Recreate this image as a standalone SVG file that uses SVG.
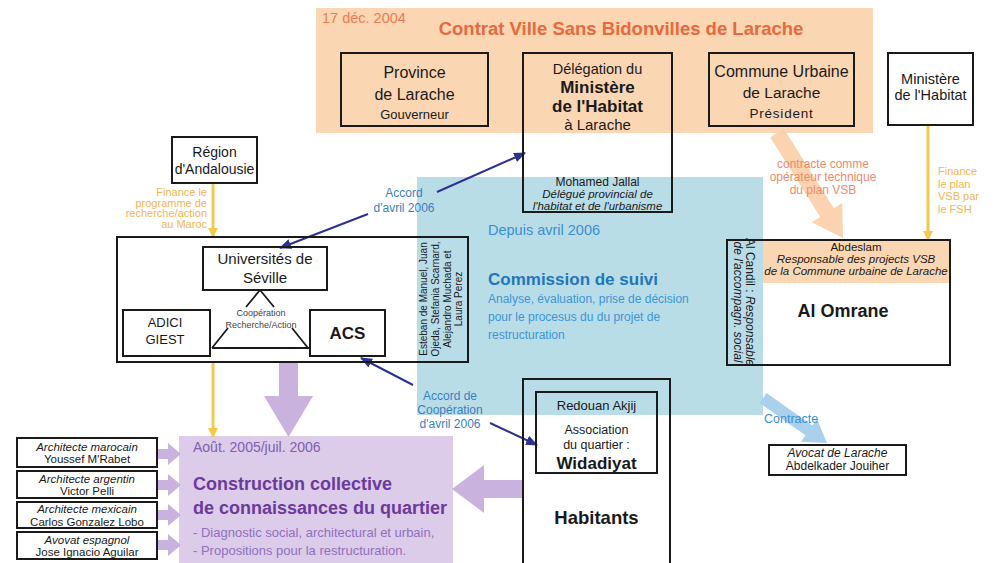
<svg xmlns="http://www.w3.org/2000/svg" width="995" height="563" viewBox="0 0 995 563">
<defs>
<style>
text{font-family:"Liberation Sans",Arial,sans-serif;fill:#1a1a1a}
.box{fill:none;stroke:#1a1a1a;stroke-width:2}
.c{text-anchor:middle}
.b{font-weight:bold}
.i{font-style:italic}
.navy{stroke:#2e3192;stroke-width:2;fill:none;marker-end:url(#mNavy)}
.yel{stroke:#f7c948;stroke-width:3;fill:none;marker-end:url(#mYel)}
.purp{fill:#c9b3de}
.acc{fill:#3a7fc2;font-size:12px;text-anchor:middle}
.fin{fill:#f4b650;font-size:11px}
.arch{font-size:11.5px;text-anchor:middle}
</style>
<marker id="mNavy" viewBox="0 0 12 10" refX="11" refY="5" markerWidth="12" markerHeight="10" markerUnits="userSpaceOnUse" orient="auto"><path d="M0,0 L12,5 L0,10 z" fill="#2e3192"/></marker>
<marker id="mYel" viewBox="0 0 10 10" refX="9" refY="5" markerWidth="10" markerHeight="10" markerUnits="userSpaceOnUse" orient="auto"><path d="M0,0 L10,5 L0,10 z" fill="#f7c948"/></marker>
</defs>
<rect width="995" height="563" fill="#ffffff"/>

<!-- background areas -->
<g id="contrat-vsb">
<rect x="316" y="8" width="557" height="125" fill="#fbd6b3"/>
<text x="322" y="23" font-size="14.5" style="fill:#e87d55">17 déc. 2004</text>
<text x="621" y="35" class="c b" font-size="18.5" style="fill:#e8693c">Contrat Ville Sans Bidonvilles de Larache</text>
</g>
<g id="commission-suivi">
<rect x="417" y="177" width="346" height="238" fill="#b9dde7"/>
<text x="488" y="235" font-size="14.5" style="fill:#3a8fcf">Depuis avril 2006</text>
<text x="488" y="285" class="b" font-size="17" style="fill:#1f77b9">Commission de suivi</text>
<text x="488" y="303" font-size="12" style="fill:#3d95d4">Analyse, évaluation, prise de décision</text>
<text x="488" y="321" font-size="12" style="fill:#3d95d4">pour le procesus du du projet de</text>
<text x="488" y="339" font-size="12" style="fill:#3d95d4">restructuration</text>
</g>
<g id="construction-collective">
<rect x="179" y="436" width="274" height="127" fill="#dccbe9"/>
<text x="193" y="452" font-size="14" style="fill:#7e5fb0">Août. 2005/juil. 2006</text>
<text x="193" y="490" class="b" font-size="18" style="fill:#6a3a9c">Construction collective</text>
<text x="193" y="514" class="b" font-size="18" style="fill:#6a3a9c">de connaissances du quartier</text>
<text x="193" y="537" font-size="13" style="fill:#9070bd">- Diagnostic social, architectural et urbain,</text>
<text x="193" y="555" font-size="13" style="fill:#9070bd">- Propositions pour la restructuration.</text>
</g>

<!-- connectors -->
<g id="connectors">
<polygon points="770.2,137.3 820.2,216.9 811.8,222.2 843,238 842.2,203 833.8,208.3 783.8,128.7" fill="#fbcfa6" opacity="0.9"/>
<polygon points="759.5,402.9 805.5,435.3 801,441.8 827,443 817,418.9 812.5,425.4 766.5,393.1" fill="#a9d0ec"/>
<polygon class="purp" points="279,362 298,362 298,396 313,396 288.5,437 264,396 279,396"/>
<polygon class="purp" points="522,480 484,480 484,465 452,489 484,513 484,498 522,498"/>
<polygon class="purp" points="157,449 168,449 168,443 181,454 168,465 168,459 157,459"/>
<polygon class="purp" points="157,480 168,480 168,474 181,485 168,496 168,490 157,490"/>
<polygon class="purp" points="157,510 168,510 168,504 181,515 168,526 168,520 157,520"/>
<polygon class="purp" points="157,540 168,540 168,534 181,545 168,556 168,550 157,550"/>
<line class="yel" x1="213" y1="183" x2="213" y2="237"/>
<line class="yel" x1="213" y1="362" x2="213" y2="437"/>
<line class="yel" x1="928" y1="125" x2="928" y2="240"/>
<line class="navy" x1="437" y1="192" x2="525" y2="153"/>
<line class="navy" x1="368" y1="214" x2="280" y2="248"/>
<line class="navy" x1="413" y1="385" x2="361" y2="358"/>
<line class="navy" x1="490" y1="423" x2="537" y2="445"/>
<text class="acc" x="404" y="197">Accord</text>
<text class="acc" x="404" y="212">d'avril 2006</text>
<text class="acc" x="450" y="400">Accord de</text>
<text class="acc" x="450" y="414">Coopération</text>
<text class="acc" x="450" y="428">d'avril 2006</text>
<text x="823" y="168" class="c" font-size="12" style="fill:#ef8a6a">contracte comme</text>
<text x="823" y="181" class="c" font-size="12" style="fill:#ef8a6a">opérateur technique</text>
<text x="823" y="194" class="c" font-size="12" style="fill:#ef8a6a">du plan VSB</text>
<text class="fin" x="938" y="175" font-size="11.5">Finance</text>
<text class="fin" x="938" y="187.5" font-size="11.5">le plan</text>
<text class="fin" x="938" y="200" font-size="11.5">VSB par</text>
<text class="fin" x="938" y="212.5" font-size="11.5">le FSH</text>
<g style="text-anchor:end">
<text class="fin" x="207" y="196">Finance le</text>
<text class="fin" x="207" y="206.5">programme de</text>
<text class="fin" x="207" y="217">recherche/action</text>
<text class="fin" x="207" y="227.5">au Maroc</text>
</g>
<text x="764" y="423" font-size="12.5" style="fill:#3f8fd0">Contracte</text>
</g>

<!-- nodes -->
<g id="province">
<rect class="box" x="341" y="53" width="147" height="73"/>
<text x="414.5" y="78" class="c" font-size="16">Province</text>
<text x="414.5" y="100" class="c" font-size="16">de Larache</text>
<text x="414.5" y="119" class="c" font-size="13">Gouverneur</text>
</g>
<g id="delegation">
<rect class="box" x="523" y="53" width="149" height="159"/>
<text x="597.5" y="74" class="c" font-size="14.5">Délégation du</text>
<text x="597.5" y="93" class="c b" font-size="17">Ministère</text>
<text x="597.5" y="111.5" class="c b" font-size="17">de l'Habitat</text>
<text x="597.5" y="130" class="c" font-size="15">à Larache</text>
<text x="597.5" y="185.5" class="c" font-size="12">Mohamed Jallal</text>
<text x="597.5" y="197.5" class="c i" font-size="11.5">Délégué provincial de</text>
<text x="597.5" y="209.5" class="c i" font-size="11.5">l'habitat et de l'urbanisme</text>
</g>
<g id="commune">
<rect class="box" x="709" y="53" width="145" height="73"/>
<text x="781.5" y="77" class="c" font-size="16">Commune Urbaine</text>
<text x="781.5" y="98" class="c" font-size="15.5">de Larache</text>
<text x="781.5" y="118" class="c" font-size="13.5" letter-spacing="0.8">Président</text>
</g>
<g id="ministere">
<rect class="box" x="888" y="53" width="85" height="72"/>
<text x="930.5" y="84" class="c" font-size="14.5">Ministère</text>
<text x="930.5" y="99.5" class="c" font-size="14.5">de l'Habitat</text>
</g>
<g id="region-andalousie">
<rect class="box" x="172" y="137" width="85" height="46"/>
<text x="214.5" y="157" class="c" font-size="14">Région</text>
<text x="214.5" y="174" class="c" font-size="14">d'Andalousie</text>
</g>
<g id="groupe-recherche">
<rect class="box" x="117" y="237" width="351" height="125"/>
<g font-size="10" text-anchor="middle">
<text transform="translate(427,299) rotate(-90)">Esteban de Manuel, Juan</text>
<text transform="translate(439,299) rotate(-90)">Ojeda, Stefania Scarnard,</text>
<text transform="translate(450.5,299) rotate(-90)">Alejandro Muchada et</text>
<text transform="translate(462,299) rotate(-90)">Laura Perez</text>
</g>
</g>
<g id="universites">
<rect class="box" x="203" y="247" width="124" height="43"/>
<text x="265" y="264" class="c" font-size="15">Universités de</text>
<text x="265" y="283" class="c" font-size="15">Séville</text>
</g>
<g id="adici">
<rect class="box" x="123" y="310" width="87" height="46"/>
<text x="165" y="327" class="c" font-size="13">ADICI</text>
<text x="165" y="344" class="c" font-size="13">GIEST</text>
</g>
<g id="acs">
<rect class="box" x="310" y="310" width="75" height="46"/>
<text x="347.5" y="339" class="c b" font-size="17">ACS</text>
</g>
<g id="cooperation">
<path d="M260,290 L246,307 M260,290 L274,307 M228,328 L212,348 M292,328 L308,348 M212,348 L310,348" stroke="#1a1a1a" stroke-width="1.8" fill="none"/>
<text x="261" y="316" class="c" font-size="9" style="fill:#444">Coopération</text>
<text x="261" y="328" class="c" font-size="9" style="fill:#444">Recherche/Action</text>
</g>
<g id="al-omrane">
<rect x="763" y="240" width="187" height="43" fill="#fbd6b3"/>
<rect class="box" x="727" y="240" width="223" height="125"/>
<text x="856" y="251" class="c" font-size="11.5">Abdeslam</text>
<text x="856" y="263" class="c i" font-size="11.5">Responsable des projects VSB</text>
<text x="856" y="275" class="c i" font-size="11.5">de la Commune urbaine de Larache</text>
<text x="843" y="317" class="c b" font-size="18">Al Omrane</text>
<g font-size="12" text-anchor="middle">
<text transform="translate(746,302) rotate(90)">Al Candil : <tspan font-style="italic">Responsable</tspan></text>
<text transform="translate(733.5,302) rotate(90)" font-style="italic">de l'accompagn. social</text>
</g>
</g>
<g id="habitants">
<rect class="box" x="523" y="379" width="147" height="195"/>
<text x="596.5" y="524" class="c b" font-size="18.5">Habitants</text>
</g>
<g id="widadiyat">
<rect class="box" x="536" y="392" width="121" height="81"/>
<text x="596.5" y="410" class="c" font-size="13">Redouan Akjij</text>
<text x="596.5" y="434" class="c" font-size="12.5">Association</text>
<text x="596.5" y="449" class="c" font-size="12.5">du quartier :</text>
<text x="596.5" y="469" class="c b" font-size="17">Widadiyat</text>
</g>
<g id="avocat-larache">
<rect class="box" x="769" y="445" width="137" height="30"/>
<text x="837.5" y="457" class="c i" font-size="12">Avocat de Larache</text>
<text x="837.5" y="470" class="c" font-size="12">Abdelkader Jouiher</text>
</g>
<g id="archi-marocain">
<rect class="box" x="17" y="438" width="140" height="29"/>
<text x="87" y="450.5" class="arch i">Architecte marocain</text>
<text x="87" y="463" class="arch">Youssef M'Rabet</text>
</g>
<g id="archi-argentin">
<rect class="box" x="17" y="471" width="140" height="27"/>
<text x="87" y="482.5" class="arch i">Architecte argentin</text>
<text x="87" y="495" class="arch">Victor Pelli</text>
</g>
<g id="archi-mexicain">
<rect class="box" x="17" y="502" width="140" height="26"/>
<text x="87" y="513" class="arch i">Architecte mexicain</text>
<text x="87" y="525.5" class="arch">Carlos Gonzalez Lobo</text>
</g>
<g id="avocat-espagnol">
<rect class="box" x="17" y="532" width="140" height="27"/>
<text x="87" y="543.5" class="arch i">Avovat espagnol</text>
<text x="87" y="556" class="arch">Jose Ignacio Aguilar</text>
</g>
</svg>
